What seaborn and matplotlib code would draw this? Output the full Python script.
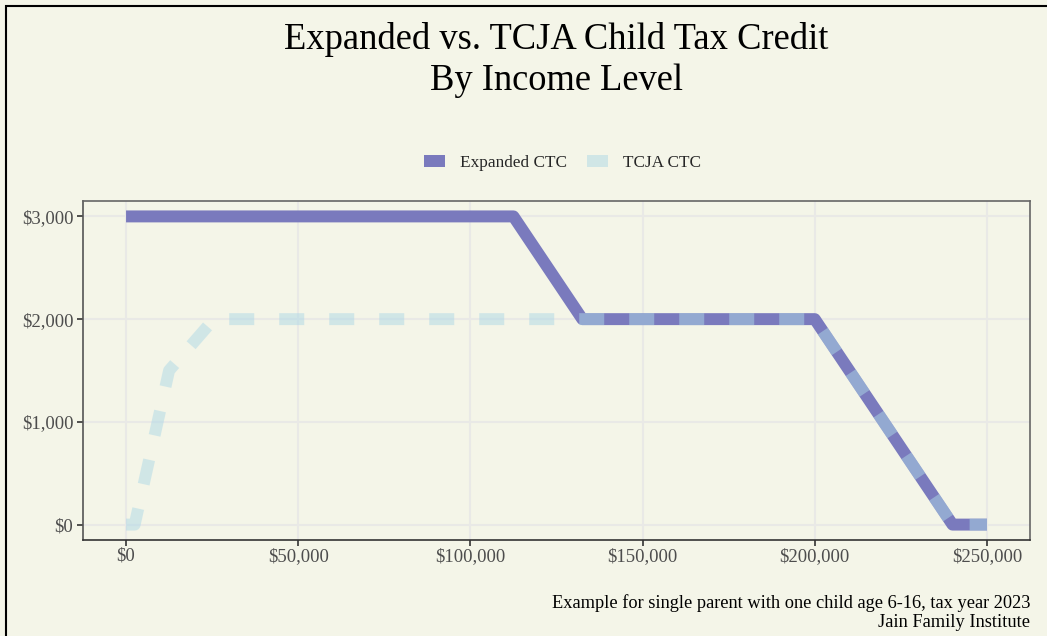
import matplotlib
matplotlib.use("Agg")
import matplotlib.pyplot as plt
import seaborn as sns
import pandas as pd
from matplotlib.patches import Patch, Rectangle
from matplotlib.ticker import FuncFormatter

# ---- data ----
expanded_income = [0, 112500, 132500, 200000, 240000, 250000]
expanded_credit = [3000, 3000, 2000, 2000, 0, 0]
tcja_income = [0, 2500, 12500, 25500, 200000, 240000, 250000]
tcja_credit = [0, 0, 1500, 2000, 2000, 0, 0]
x_ticks = [0, 50000, 100000, 150000, 200000, 250000]
y_ticks = [0, 1000, 2000, 3000]
series_names = ["Expanded CTC", "TCJA CTC"]
title = "Expanded vs. TCJA Child Tax Credit\nBy Income Level"
caption = "Example for single parent with one child age 6-16, tax year 2023\nJain Family Institute"

BG = "#F4F5E8"
C_EXP = "#7A7ABD"
C_TCJA = "#ADD8E6"

sns.set_theme(style="white")
plt.rcParams["font.family"] = ["Liberation Serif", "DejaVu Serif"]
plt.rcParams["lines.scale_dashes"] = False

fig = plt.figure(figsize=(10.47, 6.36), dpi=100, facecolor=BG)
ax = fig.add_axes([83 / 1047, 1 - 540 / 636, (1030 - 83) / 1047, (540 - 201) / 636])
ax.set_facecolor(BG)

df_exp = pd.DataFrame({"income": expanded_income, "credit": expanded_credit})
df_tcja = pd.DataFrame({"income": tcja_income, "credit": tcja_credit})

sns.lineplot(data=df_exp, x="income", y="credit", ax=ax, color=C_EXP, lw=8.6,
             solid_capstyle="butt", solid_joinstyle="round", zorder=3,
             estimator=None, sort=False)
sns.lineplot(data=df_tcja, x="income", y="credit", ax=ax, color=C_TCJA, lw=8.6,
             alpha=0.5, dashes=(18, 18), dash_capstyle="butt", dash_joinstyle="round",
             zorder=4, estimator=None, sort=False)

ax.set_xlim(-12500, 262500)
ax.set_ylim(-150, 3150)
ax.set_xticks(x_ticks)
ax.set_yticks(y_ticks)
ax.xaxis.set_major_formatter(FuncFormatter(lambda v, p: f"${v:,.0f}"))
ax.yaxis.set_major_formatter(FuncFormatter(lambda v, p: f"${v:,.0f}"))
ax.grid(True, color="#E9E9E6", lw=1.5, zorder=0)
ax.set_axisbelow(True)
ax.tick_params(axis="both", which="major", length=4, width=1.2, color="#333333",
               labelsize=13.5, labelcolor="#4D4D4D", pad=3, bottom=True, left=True)
ax.tick_params(axis="x", pad=1.5)
for s in ax.spines.values():
    s.set_color("#666666")
    s.set_linewidth(1.2)
ax.spines["bottom"].set_color("#333333")
ax.spines["left"].set_color("#555555")
ax.set_xlabel("")
ax.set_ylabel("")

handles = [Patch(facecolor=C_EXP, edgecolor="none"),
           Patch(facecolor=C_TCJA, alpha=0.5, edgecolor="none")]
fig.legend(handles, series_names, loc="center", bbox_to_anchor=(562.5 / 1047, 1 - 163 / 636),
           ncol=2, frameon=False, fontsize=12.4, handlelength=1.2, handleheight=0.72,
           columnspacing=1.2, handletextpad=0.85)

fig.text(556.5 / 1047, 1 - 60 / 636, title, ha="center", va="center", fontsize=26.3,
         color="black", linespacing=1.22)
fig.text(1030 / 1047, 1 - 613 / 636, caption, ha="right", va="center", fontsize=13.2,
         color="black", linespacing=1.15)

fig.add_artist(Rectangle((5.5 / 1047, -0.5), 2, 1.5 - 5.5 / 636,
                         transform=fig.transFigure, fill=False, ec="black", lw=1.5))

fig.savefig("out.png", dpi=100, facecolor=BG)
